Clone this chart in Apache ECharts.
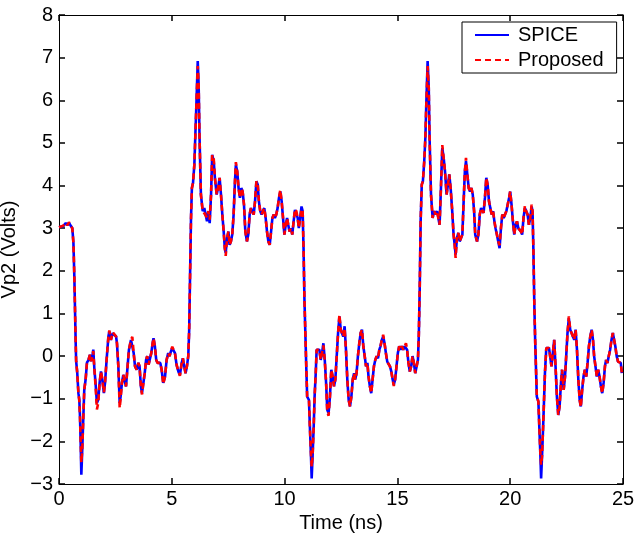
<!DOCTYPE html>
<html>
<head>
<meta charset="utf-8">
<script src="https://cdn.jsdelivr.net/npm/echarts@6/dist/echarts.min.js"></script>
<style>html,body{margin:0;padding:0;background:#fff;}#c{width:634px;height:535px;}</style>
</head>
<body>
<div id="c"></div>
<script>
const timeNs = [0,0.04,0.19,0.3,0.38,0.44,0.53,0.59,0.64,0.68,0.71,0.74,0.76,0.81,0.86,0.9,0.93,0.96,0.99,1.03,1.08,1.12,1.18,1.24,1.3,1.37,1.42,1.48,1.52,1.57,1.62,1.68,1.74,1.8,1.86,1.92,1.99,2.04,2.11,2.19,2.23,2.3,2.38,2.45,2.53,2.57,2.63,2.69,2.73,2.79,2.85,2.91,2.97,3.04,3.1,3.19,3.25,3.31,3.37,3.44,3.52,3.57,3.63,3.68,3.74,3.8,3.86,3.91,3.97,4.03,4.09,4.15,4.19,4.25,4.31,4.37,4.43,4.49,4.55,4.62,4.7,4.77,4.84,4.9,4.96,5.02,5.08,5.14,5.21,5.29,5.36,5.44,5.49,5.55,5.61,5.67,5.73,5.77,5.81,5.85,5.89,5.94,6.0,6.04,6.09,6.15,6.19,6.23,6.29,6.37,6.44,6.5,6.56,6.62,6.68,6.74,6.79,6.86,6.91,6.99,7.05,7.12,7.18,7.24,7.3,7.35,7.39,7.45,7.51,7.56,7.62,7.68,7.74,7.8,7.84,7.9,7.96,8.02,8.08,8.14,8.2,8.26,8.33,8.39,8.45,8.51,8.57,8.63,8.69,8.75,8.81,8.86,8.92,8.98,9.04,9.1,9.16,9.22,9.28,9.34,9.4,9.46,9.52,9.57,9.63,9.69,9.75,9.81,9.87,9.93,9.99,10.05,10.11,10.16,10.22,10.28,10.34,10.4,10.46,10.52,10.58,10.63,10.69,10.75,10.8,10.84,10.88,10.92,10.96,11.0,11.08,11.12,11.17,11.2,11.24,11.29,11.33,11.38,11.42,11.48,11.54,11.6,11.66,11.72,11.78,11.84,11.89,11.95,12.01,12.07,12.13,12.19,12.25,12.31,12.37,12.43,12.49,12.54,12.6,12.66,12.72,12.78,12.84,12.9,12.96,13.02,13.08,13.13,13.19,13.25,13.31,13.37,13.43,13.49,13.55,13.61,13.67,13.72,13.78,13.84,13.9,13.96,14.02,14.08,14.14,14.2,14.25,14.31,14.37,14.43,14.49,14.55,14.61,14.67,14.73,14.79,14.84,14.9,14.96,15.02,15.08,15.14,15.2,15.26,15.32,15.38,15.43,15.49,15.55,15.61,15.67,15.73,15.79,15.85,15.91,15.95,15.99,16.03,16.08,16.13,16.19,16.24,16.28,16.34,16.39,16.43,16.49,16.56,16.63,16.69,16.76,16.82,16.87,16.93,16.99,17.05,17.11,17.18,17.24,17.3,17.36,17.43,17.49,17.54,17.58,17.64,17.7,17.76,17.82,17.88,17.93,17.99,18.04,18.1,18.16,18.22,18.28,18.34,18.4,18.45,18.53,18.59,18.65,18.71,18.76,18.82,18.88,18.94,19.0,19.06,19.12,19.18,19.24,19.3,19.35,19.41,19.47,19.53,19.59,19.65,19.71,19.77,19.83,19.89,19.95,20.0,20.06,20.12,20.18,20.24,20.3,20.36,20.42,20.48,20.53,20.59,20.65,20.71,20.77,20.83,20.89,20.95,20.99,21.03,21.07,21.11,21.14,21.18,21.25,21.29,21.34,21.37,21.41,21.46,21.5,21.54,21.6,21.66,21.72,21.77,21.83,21.89,21.95,22.01,22.07,22.13,22.19,22.25,22.3,22.37,22.43,22.49,22.54,22.6,22.66,22.72,22.78,22.84,22.9,22.96,23.02,23.08,23.13,23.19,23.25,23.31,23.37,23.43,23.49,23.55,23.61,23.67,23.72,23.78,23.84,23.9,23.96,24.02,24.08,24.14,24.2,24.25,24.31,24.37,24.43,24.49,24.55,24.6,24.66,24.72,24.78,24.84,24.9,24.95];

const spiceV = [3.02,3.04,3.05,3.12,3.07,3.13,3.05,3.0,2.65,1.87,1.09,0.3,-0.12,-0.4,-0.87,-1.02,-1.41,-2.04,-2.78,-2.2,-1.41,-0.79,-0.55,-0.15,-0.1,0.03,-0.12,0.0,0.15,-0.32,-0.63,-1.1,-1.02,-0.63,-0.36,-0.55,-0.87,-0.63,-0.09,0.46,0.58,0.38,0.54,0.58,0.46,0.3,-0.24,-1.1,-0.95,-0.63,-0.44,-0.48,-0.71,-0.24,0.15,0.38,0.42,0.07,-0.24,-0.32,-0.16,-0.24,-0.71,-0.87,-0.63,-0.4,-0.09,0.0,-0.2,-0.16,0.07,0.3,0.42,0.23,-0.09,-0.16,-0.12,-0.16,-0.32,-0.63,-0.48,-0.09,0.07,0.0,0.11,0.19,0.15,0.07,-0.2,-0.36,-0.44,-0.16,-0.05,-0.24,-0.4,-0.24,0.0,0.6,1.9,3.2,3.94,4.06,4.49,5.12,5.9,6.92,6.37,5.12,3.79,3.4,3.47,3.32,3.16,3.4,3.12,3.79,4.72,4.57,4.18,3.79,3.94,4.18,3.79,3.32,2.92,2.53,2.42,2.77,2.92,2.61,2.69,2.85,3.32,4.1,4.49,4.33,3.94,3.71,3.94,3.86,3.55,2.92,2.69,2.85,3.32,3.47,3.51,3.32,3.63,4.1,4.02,3.63,3.4,3.32,3.4,3.47,3.24,2.92,2.69,2.61,2.92,3.24,3.32,3.24,3.32,3.47,3.71,3.86,3.63,3.24,2.85,3.08,3.24,3.08,2.92,3.0,2.85,3.16,3.43,3.4,3.24,3.0,3.24,3.51,3.4,2.53,1.32,0.54,-0.24,-0.95,-1.03,-1.65,-2.36,-2.87,-2.36,-1.65,-0.95,-0.4,0.15,0.19,0.15,-0.09,0.07,0.3,-0.09,-0.63,-1.26,-1.34,-0.95,-0.32,-0.48,-0.71,-0.55,0.0,0.54,0.93,0.62,0.54,0.46,0.7,0.15,-0.55,-1.03,-1.18,-0.95,-0.55,-0.4,-0.55,-0.4,0.0,0.3,0.54,0.62,0.23,0.0,-0.24,-0.16,-0.48,-0.71,-0.87,-0.55,-0.24,-0.09,0.0,-0.05,0.15,0.23,0.38,0.46,0.3,0.07,-0.13,-0.09,-0.24,-0.36,-0.55,-0.67,-0.55,-0.24,0.07,0.23,0.15,0.23,0.15,0.23,0.27,0.15,-0.16,-0.36,-0.24,0.0,-0.16,-0.4,-0.36,-0.09,0.5,1.6,3.16,4.02,4.1,4.57,5.12,5.9,6.92,6.29,5.04,3.79,3.24,3.4,3.32,3.4,3.43,3.08,3.94,4.88,4.65,4.33,3.79,4.02,4.26,3.94,3.4,2.85,2.61,2.38,2.77,2.89,2.69,2.73,2.85,3.55,4.33,4.57,4.26,3.94,3.86,3.94,3.79,3.4,2.85,2.69,2.85,3.32,3.47,3.51,3.36,3.71,4.18,4.02,3.63,3.47,3.32,3.4,3.16,3.0,2.85,2.69,2.53,3.0,3.32,3.24,3.32,3.4,3.4,3.71,3.86,3.55,3.16,2.85,3.08,3.16,3.0,3.0,2.92,2.85,3.24,3.47,3.4,3.32,3.08,3.24,3.51,3.4,2.46,1.2,0.3,-0.24,-0.95,-1.07,-1.65,-2.36,-2.87,-2.36,-1.65,-1.03,-0.4,0.19,0.15,0.19,0.0,-0.24,0.07,0.38,-0.24,-0.95,-1.38,-1.18,-0.63,-0.32,-0.79,-0.48,0.07,0.54,0.89,0.62,0.54,0.46,0.38,0.62,0.15,-0.55,-1.03,-1.18,-0.79,-0.48,-0.32,-0.48,-0.16,0.23,0.46,0.62,0.38,0.0,-0.24,-0.48,-0.32,-0.48,-0.71,-0.87,-0.63,-0.24,-0.09,-0.16,0.0,0.15,0.38,0.54,0.54,0.23,0.0,-0.13,-0.09,-0.16,-0.4];

const proposedV = [3.02,3.04,3.06,3.13,3.07,3.14,3.05,3.0,2.65,1.87,1.09,0.3,-0.12,-0.4,-0.87,-1.05,-1.41,-2.0,-2.5,-2.2,-1.41,-0.79,-0.55,-0.15,-0.1,0.03,-0.12,0.0,0.12,-0.32,-0.7,-1.25,-1.1,-0.63,-0.36,-0.55,-0.85,-0.63,-0.09,0.46,0.6,0.38,0.56,0.58,0.46,0.3,-0.24,-1.22,-1.0,-0.63,-0.44,-0.48,-0.71,-0.24,0.15,0.38,0.45,0.07,-0.24,-0.32,-0.16,-0.24,-0.71,-0.9,-0.63,-0.4,-0.09,0.0,-0.2,-0.16,0.07,0.3,0.42,0.23,-0.09,-0.16,-0.12,-0.16,-0.32,-0.66,-0.48,-0.09,0.07,0.0,0.11,0.22,0.15,0.07,-0.2,-0.36,-0.46,-0.16,-0.05,-0.24,-0.4,-0.24,0.0,0.6,1.9,3.2,3.94,4.06,4.49,5.12,5.9,6.8,6.37,5.12,3.79,3.4,3.35,3.32,3.25,3.4,3.2,3.79,4.72,4.62,4.18,3.79,3.94,4.18,3.79,3.32,2.92,2.53,2.35,2.77,2.92,2.61,2.69,2.85,3.32,4.1,4.55,4.33,3.94,3.71,3.94,3.86,3.55,2.92,2.69,2.85,3.32,3.47,3.51,3.32,3.63,4.1,4.02,3.63,3.4,3.32,3.4,3.47,3.24,2.92,2.69,2.61,2.92,3.24,3.32,3.24,3.32,3.47,3.71,3.9,3.63,3.24,2.85,3.08,3.24,3.08,2.92,3.0,2.85,3.16,3.45,3.4,3.24,3.0,3.24,3.45,3.4,2.53,1.32,0.54,-0.24,-0.95,-1.03,-1.65,-2.3,-2.6,-2.36,-1.65,-0.95,-0.4,0.15,0.19,0.15,-0.09,0.07,0.25,-0.09,-0.63,-1.3,-1.4,-0.95,-0.32,-0.48,-0.71,-0.55,0.0,0.54,0.97,0.62,0.54,0.46,0.65,0.15,-0.55,-1.03,-1.18,-0.95,-0.55,-0.4,-0.55,-0.4,0.0,0.3,0.54,0.62,0.23,0.0,-0.24,-0.16,-0.48,-0.71,-0.87,-0.55,-0.24,-0.09,0.0,-0.05,0.15,0.23,0.38,0.5,0.3,0.07,-0.13,-0.09,-0.24,-0.36,-0.55,-0.7,-0.55,-0.24,0.07,0.23,0.15,0.23,0.15,0.23,0.3,0.15,-0.16,-0.36,-0.24,0.0,-0.16,-0.4,-0.36,-0.09,0.5,1.6,3.16,4.02,4.1,4.57,5.12,5.9,6.8,6.29,5.04,3.79,3.24,3.4,3.32,3.4,3.43,3.08,3.94,4.95,4.65,4.33,3.79,4.02,4.26,3.94,3.4,2.85,2.61,2.3,2.77,2.89,2.69,2.73,2.85,3.55,4.33,4.65,4.26,3.94,3.86,3.94,3.79,3.4,2.85,2.69,2.85,3.32,3.47,3.51,3.36,3.71,4.18,4.02,3.63,3.47,3.32,3.4,3.16,3.0,2.85,2.69,2.6,3.0,3.32,3.24,3.32,3.4,3.4,3.71,3.86,3.55,3.16,2.85,3.08,3.16,3.0,3.0,2.92,2.85,3.24,3.52,3.4,3.32,3.08,3.24,3.55,3.4,2.46,1.2,0.3,-0.24,-0.95,-1.07,-1.65,-2.3,-2.55,-2.36,-1.65,-1.03,-0.4,0.19,0.15,0.19,0.0,-0.24,0.07,0.38,-0.24,-0.95,-1.38,-1.18,-0.63,-0.32,-0.79,-0.48,0.07,0.54,0.93,0.62,0.54,0.46,0.38,0.62,0.15,-0.55,-1.03,-1.2,-0.79,-0.48,-0.32,-0.48,-0.16,0.23,0.46,0.62,0.38,0.0,-0.24,-0.48,-0.32,-0.48,-0.71,-0.87,-0.63,-0.24,-0.09,-0.16,0.0,0.15,0.38,0.54,0.58,0.23,0.0,-0.13,-0.09,-0.16,-0.4];

const xTicks = {min: 0, max: 25, interval: 5};
const yTicks = {min: -3, max: 8, interval: 1};
const seriesNames = ['SPICE', 'Proposed'];

const FONT = 'Liberation Sans, Arial, Helvetica, sans-serif';
const FS = 20;
const chart = echarts.init(document.getElementById('c'), null, {renderer: 'canvas'});

function pairs(vals) { return timeNs.map((t, i) => [t, vals[i]]); }

function mkAxis(extra) {
  return Object.assign({
    type: 'value',
    axisLine: {show: true, onZero: false, lineStyle: {color: '#000', width: 1}},
    axisTick: {show: true, inside: true, length: 6, lineStyle: {color: '#000', width: 1.5, opacity: 1}},
    splitLine: {show: false},
    minorTick: {show: false}
  }, extra);
}

chart.setOption({
  animation: false,
  backgroundColor: '#fff',
  grid: {left: 59, right: 11, top: 15, bottom: 51, containLabel: false, outerBoundsMode: 'none'},
  legend: {
    data: seriesNames,
    orient: 'vertical',
    left: 462, top: 22,
    padding: [3, 13, 3, 12],
    itemGap: 5,
    itemWidth: 34, itemHeight: 14,
    itemStyle: {opacity: 0},
    borderColor: '#000', borderWidth: 1,
    backgroundColor: '#fff',
    textStyle: {fontFamily: FONT, fontSize: FS, color: '#000', padding: [0, 0, 0, 4]}
  },
  xAxis: [
    mkAxis({
      position: 'bottom', min: xTicks.min, max: xTicks.max, interval: xTicks.interval,
      name: 'Time (ns)', nameLocation: 'middle', nameGap: 28,
      nameTextStyle: {fontFamily: FONT, fontSize: FS, color: '#000'},
      axisLabel: {fontFamily: FONT, fontSize: FS, color: '#000', margin: 5}
    }),
    mkAxis({
      position: 'top', min: xTicks.min, max: xTicks.max, interval: xTicks.interval,
      axisLabel: {show: false}
    })
  ],
  yAxis: [
    mkAxis({
      position: 'left', min: yTicks.min, max: yTicks.max, interval: yTicks.interval,
      name: 'Vp2 (Volts)', nameLocation: 'middle', nameGap: 27,
      nameTextStyle: {fontFamily: FONT, fontSize: FS, color: '#000'},
      axisLabel: {fontFamily: FONT, fontSize: FS, color: '#000', margin: 6,
        formatter: v => (v < 0 ? '\u2212' + Math.abs(v) : String(v))}
    }),
    mkAxis({
      position: 'right', min: yTicks.min, max: yTicks.max, interval: yTicks.interval,
      axisLabel: {show: false}
    })
  ],
  series: [
    {
      name: seriesNames[0], type: 'line', xAxisIndex: 0, yAxisIndex: 0,
      data: pairs(spiceV), showSymbol: false, symbol: 'none',
      lineStyle: {color: '#0000ff', width: 2.6, type: 'solid'},
      itemStyle: {color: '#0000ff'}, z: 2
    },
    {
      name: seriesNames[1], type: 'line', xAxisIndex: 0, yAxisIndex: 0,
      data: pairs(proposedV), showSymbol: false, symbol: 'none',
      lineStyle: {color: '#ff0000', width: 2.6, type: [6, 4]},
      itemStyle: {color: '#ff0000'}, z: 3
    }
  ]
});
</script>
</body>
</html>
